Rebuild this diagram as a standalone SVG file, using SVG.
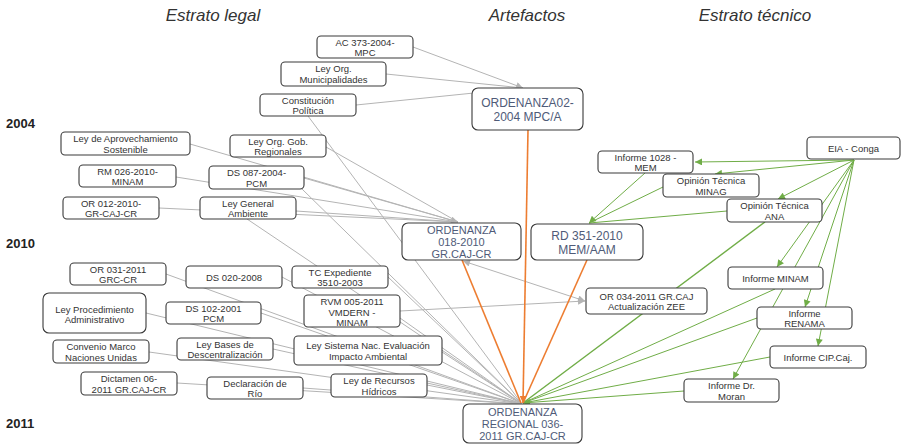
<svg xmlns="http://www.w3.org/2000/svg" width="902" height="445" viewBox="0 0 902 445">
<style>
.hd{font-family:"Liberation Sans",Arial,sans-serif;font-size:17px;font-style:italic;fill:#333;text-anchor:middle}
.yr{font-family:"Liberation Sans",Arial,sans-serif;font-size:13px;font-weight:bold;fill:#222}
.n rect{fill:#fff;stroke:#3a3a3a;stroke-width:1.1}
.n text{font-family:"Liberation Sans",Arial,sans-serif;font-size:9.5px;fill:#333;text-anchor:middle}
.o rect{fill:#fff;stroke:#3a3a3a;stroke-width:1.1}
.o text{font-family:"Liberation Sans",Arial,sans-serif;font-size:12px;fill:#4f5b78;text-anchor:middle}
.o text.s{font-size:11px}
.g line{stroke:#b4b4b4;stroke-width:1}
.r line{stroke:#ED7D31;stroke-width:1.6}
.v line{stroke:#70AD47;stroke-width:1}
</style>
<defs>
<marker id="ag" viewBox="0 0 10 10" refX="10" refY="5" markerWidth="8" markerHeight="7" markerUnits="userSpaceOnUse" orient="auto-start-reverse"><path d="M0,0 L10,5 L0,10 z" fill="#b4b4b4"/></marker>
<marker id="ao" viewBox="0 0 10 10" refX="10" refY="5" markerWidth="8" markerHeight="7" markerUnits="userSpaceOnUse" orient="auto"><path d="M0,0 L10,5 L0,10 z" fill="#ED7D31"/></marker>
<marker id="av" viewBox="0 0 10 10" refX="10" refY="5" markerWidth="8" markerHeight="7" markerUnits="userSpaceOnUse" orient="auto"><path d="M0,0 L10,5 L0,10 z" fill="#70AD47"/></marker>
</defs>
<rect width="902" height="445" fill="#fff"/>
<text class="hd" x="213" y="21">Estrato legal</text>
<text class="hd" x="527" y="21">Artefactos</text>
<text class="hd" x="755" y="21">Estrato técnico</text>
<text class="yr" x="6" y="128">2004</text>
<text class="yr" x="6" y="248">2010</text>
<text class="yr" x="6" y="428">2011</text>
<g id="connectors">
<g class="g">
<line x1="413" y1="47" x2="523" y2="88" marker-end="url(#ag)"/>
<line x1="386" y1="74" x2="523" y2="88"/>
<line x1="356" y1="105" x2="523" y2="88"/>
<line x1="190" y1="144" x2="458" y2="222" marker-end="url(#ag)"/>
<line x1="326" y1="147" x2="458" y2="222"/>
<line x1="176" y1="177" x2="458" y2="222"/>
<line x1="304" y1="178" x2="458" y2="222"/>
<line x1="159" y1="208" x2="458" y2="222"/>
<line x1="296" y1="211" x2="458" y2="222"/>
<line x1="308" y1="116" x2="522" y2="404"/>
<line x1="302" y1="189" x2="522" y2="404"/>
<line x1="247" y1="219" x2="522" y2="404"/>
<line x1="166" y1="274" x2="522" y2="404"/>
<line x1="282" y1="277" x2="522" y2="404"/>
<line x1="388" y1="277" x2="522" y2="404"/>
<line x1="146" y1="313" x2="522" y2="404"/>
<line x1="261" y1="313" x2="522" y2="404"/>
<line x1="400" y1="318" x2="522" y2="404"/>
<line x1="149" y1="352" x2="522" y2="404"/>
<line x1="273" y1="349" x2="522" y2="404"/>
<line x1="442" y1="352" x2="522" y2="404"/>
<line x1="177" y1="383" x2="522" y2="404"/>
<line x1="303" y1="388" x2="522" y2="404"/>
<line x1="427" y1="385" x2="522" y2="404"/>
<line x1="400" y1="311" x2="585" y2="301" marker-end="url(#ag)"/>
<line x1="463" y1="261" x2="585" y2="301" marker-start="url(#ag)" marker-end="url(#ag)"/>
</g>
<g class="v">
<line x1="854" y1="160" x2="695" y2="162" marker-end="url(#av)"/>
<line x1="854" y1="160" x2="715" y2="174" marker-end="url(#av)"/>
<line x1="854" y1="160" x2="778" y2="199" marker-end="url(#av)"/>
<line x1="854" y1="160" x2="777" y2="267" marker-end="url(#av)"/>
<line x1="854" y1="160" x2="805" y2="307" marker-end="url(#av)"/>
<line x1="854" y1="160" x2="818" y2="346" marker-end="url(#av)"/>
<line x1="854" y1="160" x2="733" y2="379" marker-end="url(#av)"/>
<line x1="645" y1="173" x2="589" y2="223" marker-end="url(#av)"/>
<line x1="663" y1="187" x2="589" y2="223"/>
<line x1="727" y1="211" x2="589" y2="223"/>
<line x1="765" y1="222" x2="523" y2="403" style="stroke-width:1.4"/>
<line x1="775" y1="289" x2="523" y2="403"/>
<line x1="757" y1="318" x2="523" y2="403"/>
<line x1="770" y1="357" x2="523" y2="403"/>
<line x1="684" y1="391" x2="523" y2="403" marker-end="url(#av)"/>
</g>
<g class="r">
<line x1="528" y1="130" x2="523" y2="403" marker-end="url(#ao)"/>
<line x1="462" y1="260" x2="521" y2="403"/>
<line x1="587" y1="260" x2="523" y2="403"/>
</g>
</g>
<g id="n-ac373" class="n"><rect x="317" y="36" width="96" height="22" rx="4"/><text x="365" y="45.5">AC 373-2004-</text><text x="365" y="56">MPC</text></g>
<g id="n-muni" class="n"><rect x="281" y="62" width="105" height="24" rx="4"/><text x="333.5" y="72">Ley Org.</text><text x="333.5" y="83">Municipalidades</text></g>
<g id="n-const" class="n"><rect x="260" y="94" width="96" height="22" rx="4"/><text x="308" y="103.5">Constitución</text><text x="308" y="114">Política</text></g>
<g id="n-aprov" class="n"><rect x="61" y="132" width="129" height="23" rx="4"/><text x="125.5" y="141.5">Ley de Aprovechamiento</text><text x="125.5" y="152.5">Sostenible</text></g>
<g id="n-gobreg" class="n"><rect x="230" y="135" width="96" height="22" rx="4"/><text x="278" y="144.5">Ley Org. Gob.</text><text x="278" y="155">Regionales</text></g>
<g id="n-rm026" class="n"><rect x="79" y="165" width="97" height="22" rx="4"/><text x="127.5" y="174.5">RM 026-2010-</text><text x="127.5" y="185">MINAM</text></g>
<g id="n-ds087" class="n"><rect x="209" y="166" width="95" height="23" rx="4"/><text x="256.5" y="175.5">DS 087-2004-</text><text x="256.5" y="186.5">PCM</text></g>
<g id="n-or012" class="n"><rect x="63" y="197" width="96" height="22" rx="4"/><text x="111" y="206.5">OR 012-2010-</text><text x="111" y="217">GR-CAJ-CR</text></g>
<g id="n-lga" class="n"><rect x="200" y="197" width="96" height="22" rx="4"/><text x="248" y="206.5">Ley General</text><text x="248" y="217">Ambiente</text></g>
<g id="n-ord02" class="o"><rect x="472" y="88" width="111" height="42" rx="6"/><text x="527.5" y="106.5">ORDENANZA02-</text><text x="527.5" y="120.5">2004 MPC/A</text></g>
<g id="n-ord018" class="o"><rect x="402" y="223" width="119" height="37" rx="6"/><text class="s" x="461.5" y="234">ORDENANZA</text><text class="s" x="461.5" y="246">018-2010</text><text class="s" x="461.5" y="258">GR.CAJ-CR</text></g>
<g id="n-rd351" class="o"><rect x="531" y="224" width="112" height="36" rx="6"/><text x="587" y="240">RD 351-2010</text><text x="587" y="253.5">MEM/AAM</text></g>
<g id="n-eia" class="n"><rect x="807" y="137" width="93" height="22" rx="4"/><text x="853.5" y="151.5">EIA - Conga</text></g>
<g id="n-inf1028" class="n"><rect x="598" y="151" width="95" height="22" rx="4"/><text x="645.5" y="160.5">Informe 1028  -</text><text x="645.5" y="171">MEM</text></g>
<g id="n-minag" class="n"><rect x="663" y="174" width="96" height="23" rx="4"/><text x="711" y="183.5">Opinión Técnica</text><text x="711" y="194.5">MINAG</text></g>
<g id="n-ana" class="n"><rect x="727" y="199" width="95" height="23" rx="4"/><text x="774.5" y="208.5">Opinión Técnica</text><text x="774.5" y="219.5">ANA</text></g>
<g id="n-or031" class="n"><rect x="70" y="263" width="96" height="22" rx="4"/><text x="118" y="272.5">OR 031-2011</text><text x="118" y="283">GRC-CR</text></g>
<g id="n-ds020" class="n"><rect x="186" y="266" width="96" height="22" rx="4"/><text x="234" y="280.5">DS 020-2008</text></g>
<g id="n-tc" class="n"><rect x="292" y="266" width="96" height="22" rx="4"/><text x="340" y="275.5">TC Expediente</text><text x="340" y="286">3510-2003</text></g>
<g id="n-lpa" class="n"><rect x="43" y="293" width="103" height="40" rx="6"/><text x="94.5" y="312.5">Ley Procedimiento</text><text x="94.5" y="322.5">Administrativo</text></g>
<g id="n-ds102" class="n"><rect x="166" y="302" width="95" height="22" rx="4"/><text x="213.5" y="311.5">DS 102-2001</text><text x="213.5" y="322">PCM</text></g>
<g id="n-rvm" class="n"><rect x="304" y="295" width="96" height="32" rx="4"/><text x="352" y="305">RVM 005-2011</text><text x="352" y="315.5">VMDERN -</text><text x="352" y="326">MINAM</text></g>
<g id="n-or034" class="n"><rect x="586" y="288" width="121" height="26" rx="4"/><text x="646.5" y="299.5">OR 034-2011 GR.CAJ</text><text x="646.5" y="310">Actualización ZEE</text></g>
<g id="n-minam" class="n"><rect x="728" y="267" width="95" height="22" rx="4"/><text x="775.5" y="281.5">Informe MINAM</text></g>
<g id="n-renama" class="n"><rect x="757" y="307" width="95" height="22" rx="4"/><text x="804.5" y="316.5">Informe</text><text x="804.5" y="327">RENAMA</text></g>
<g id="n-conv" class="n"><rect x="53" y="340" width="96" height="23" rx="4"/><text x="101" y="349.5">Convenio Marco</text><text x="101" y="360.5">Naciones Unidas</text></g>
<g id="n-bases" class="n"><rect x="177" y="338" width="96" height="22" rx="4"/><text x="225" y="347.5">Ley Bases de</text><text x="225" y="358">Descentralización</text></g>
<g id="n-seia" class="n"><rect x="294" y="336" width="148" height="29" rx="4"/><text x="368" y="349">Ley Sistema Nac. Evaluación</text><text x="368" y="359.5">Impacto Ambiental</text></g>
<g id="n-cip" class="n"><rect x="770" y="346" width="96" height="22" rx="4"/><text x="818" y="360.5">Informe  CIP.Caj.</text></g>
<g id="n-dict" class="n"><rect x="81" y="372" width="96" height="23" rx="4"/><text x="129" y="381.5">Dictamen 06-</text><text x="129" y="392.5">2011 GR.CAJ-CR</text></g>
<g id="n-rio" class="n"><rect x="207" y="377" width="96" height="22" rx="4"/><text x="255" y="386.5">Declaración de</text><text x="255" y="397">Río</text></g>
<g id="n-hidr" class="n"><rect x="331" y="374" width="96" height="23" rx="4"/><text x="379" y="383.5">Ley de Recursos</text><text x="379" y="394.5">Hídricos</text></g>
<g id="n-moran" class="n"><rect x="684" y="379" width="95" height="23" rx="4"/><text x="731.5" y="388.5">Informe Dr.</text><text x="731.5" y="399.5">Moran</text></g>
<g id="n-ord036" class="o"><rect x="463" y="404" width="119" height="39" rx="6"/><text class="s" x="522.5" y="415.5">ORDENANZA</text><text class="s" x="522.5" y="427.5">REGIONAL 036-</text><text class="s" x="522.5" y="439.5">2011 GR.CAJ-CR</text></g>
</svg>
